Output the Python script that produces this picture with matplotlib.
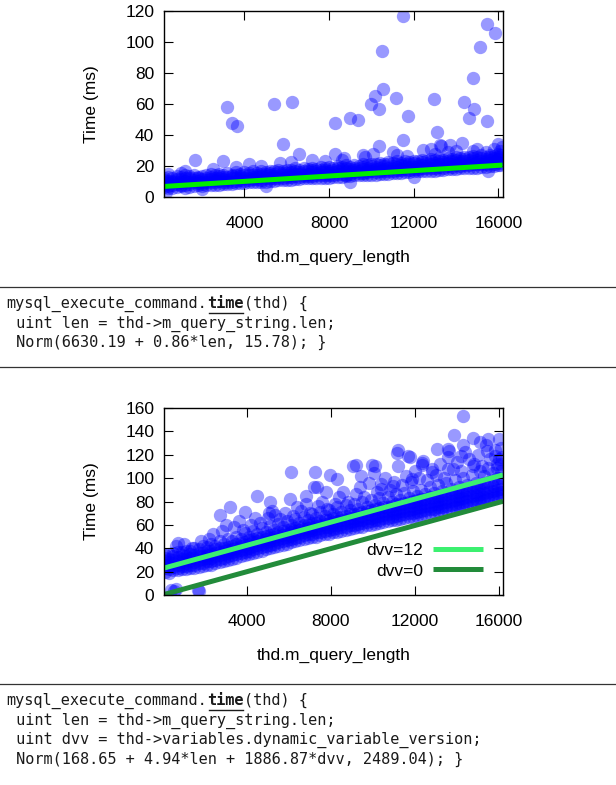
import matplotlib
matplotlib.use("Agg")
import matplotlib.pyplot as plt
from matplotlib.lines import Line2D
import numpy as np

plt.rcParams['font.family'] = ['Liberation Sans', 'DejaVu Sans']

# ---- top chart: time vs query length ----
top_band_cols = [200, 600, 1000, 1400, 1800, 2200, 2600, 3000, 3400, 3800,
                 4200, 4600, 5000, 5400, 5800, 6200, 6600, 7000, 7400, 7800,
                 8200, 8600, 9000, 9400, 9800, 10200, 10600, 11000, 11400, 11800,
                 12200, 12600, 13000, 13400, 13800, 14200, 14600, 15000, 15400, 15800,
                 16100]
top_band_y = [
    [6.5, 8, 9.5, 11, 12.5], [6, 7.5, 9.5, 10.5, 12], [7, 8, 10, 11.5, 13],
    [6.5, 8.5, 10, 12, 13.5], [7.5, 9, 10.5, 12, 13], [7.5, 9.5, 11, 12.5, 14],
    [8, 9.5, 11, 12, 14], [8.5, 10, 11.5, 13, 14.5], [8.5, 10, 12, 13.5, 14.5],
    [9, 11, 12, 13.5, 15], [9.5, 11, 12.5, 14, 15.5], [10, 11.5, 13, 14, 15.5],
    [10, 12, 13.5, 15, 16], [10.5, 12, 13.5, 15, 16.5], [11, 12.5, 14, 15.5, 16.5],
    [11, 13, 14.5, 16, 17.5], [11.5, 13, 15, 16, 17.5], [12, 13.5, 15, 16.5, 18],
    [12, 14, 15.5, 17, 18], [12.5, 14, 16, 17.5, 18.5], [13, 14.5, 16, 17.5, 19],
    [13, 15, 16.5, 18, 19.5], [13.5, 15, 17, 18, 19.5], [14, 15.5, 17, 18.5, 20],
    [14, 16, 17.5, 19, 20.5], [14.5, 16, 18, 19.5, 21], [15, 16.5, 18, 20, 21.5],
    [15.5, 17, 18.5, 20, 22], [15.5, 17.5, 19, 20.5, 22], [16, 17.5, 19.5, 21, 22.5],
    [16.5, 18, 20, 21.5, 23], [17, 18.5, 20, 22, 23.5], [17, 19, 20.5, 22, 24],
    [17.5, 19, 21, 22.5, 24], [18, 19.5, 21.5, 23, 24.5], [18.5, 20, 22, 23.5, 25],
    [19, 20.5, 22, 24, 25.5], [19, 21, 22.5, 24, 26], [19.5, 21, 23, 24.5, 26],
    [20, 21.5, 23.5, 25, 26.5], [20.5, 22, 24, 25.5, 27],
]
top_mid_cols = [400, 800, 1200, 1600, 2000, 2400, 2800, 3200, 3600, 4000,
                4400, 4800, 5200, 5600, 6000, 6400, 6800, 7200, 7600, 8000,
                8400, 8800, 9200, 9600, 10000, 10400, 10800, 11200, 11600, 12000,
                12400, 12800, 13200, 13600, 14000, 14400, 14800, 15200, 15600, 16000]
top_mid_y = [
    [5.5, 7, 9, 10.5, 13], [6.5, 8.5, 9.5, 11.5, 13.5], [6, 8, 10.5, 12, 14],
    [7, 9.5, 11, 12.5, 14.5], [7, 8.5, 10, 11.5, 13.5], [8, 10, 11.5, 13, 15],
    [8, 10.5, 12, 13.5, 15], [8.5, 9.5, 11, 13, 15.5], [9, 10.5, 12.5, 14, 16],
    [9, 10.5, 12, 14.5, 16], [10, 11.5, 13, 14.5, 16.5], [9.5, 11, 13.5, 15, 17],
    [10.5, 12.5, 14, 15.5, 17], [11, 12, 13.5, 16, 17.5], [11, 13, 14.5, 15.5, 17.5],
    [11.5, 13.5, 15, 17, 18.5], [12, 13.5, 14.5, 16.5, 18.5], [12, 13.5, 16, 17.5, 19],
    [12.5, 14.5, 16, 17.5, 19.5], [12.5, 14.5, 15.5, 17, 19.5], [13, 15, 17, 18.5, 20],
    [13.5, 14.5, 16.5, 18.5, 20.5], [14, 16, 17.5, 19, 20.5], [14, 15.5, 18, 19.5, 21],
    [14.5, 16.5, 18, 20, 21.5], [15, 17, 18.5, 20.5, 22], [15, 16.5, 19, 21, 22.5],
    [15.5, 17.5, 19.5, 21, 23], [16, 18, 20, 21.5, 23], [16.5, 18, 19.5, 22, 23.5],
    [16.5, 18.5, 20.5, 22.5, 24], [17, 19, 21, 23, 24.5], [17.5, 19.5, 21, 23, 25],
    [18, 20, 22, 23.5, 25], [18, 20.5, 22, 24, 25.5], [19, 20.5, 23, 24.5, 26],
    [19, 21, 23, 25, 26.5], [19.5, 21.5, 23.5, 25, 27], [20, 22, 24, 25.5, 27],
    [20.5, 22.5, 24.5, 26, 27.5],
]
top_out_x = [3180, 3400, 3650, 5410, 6250, 5820, 1680, 2980, 4240, 6600,
             8270, 8980, 9390, 8290, 10520, 10560, 10190, 10000, 10340, 10340,
             11490, 11170, 11730, 11490, 12980, 13120, 13250, 14370, 14590, 14870,
             14780, 15150, 15450, 15820, 15450, 14270, 13720, 12420,
             400, 1200, 2500, 5700, 7200, 8700, 9700, 10100, 11200, 11700,
             13000, 13300, 14800, 15400, 15800, 16100, 16150, 300, 2000, 5000,
             9000, 12000, 15500,
             8600, 9600, 11000, 12800, 14000, 15000, 16000, 13600, 6200, 7800,
             4800, 3600, 1000]
top_out_y = [58, 47.8, 46, 60, 61, 34, 24, 23, 21, 28,
             48, 51, 50, 28, 94, 70, 65, 60, 57, 33,
             116.5, 64, 52, 37, 63, 42, 33.5, 61, 51, 57,
             77, 97, 111.5, 106, 49, 35, 33.5, 30.5,
             15, 17, 18, 22, 24, 25, 26, 28, 27, 26.5,
             28, 33, 30, 29, 31, 30, 32, 3.5, 5, 7,
             10, 13, 16.5,
             24, 27, 29, 31, 30, 31, 34, 29, 22.5, 23,
             20, 19.5, 15.5]
top_fit_x = [200, 16200]
top_fit_y = [6.8, 20.6]

# ---- bottom chart: time vs query length, two dvv values ----
bot_band_cols = [100, 500, 900, 1300, 1700, 2100, 2500, 2900, 3300, 3700,
                 4100, 4500, 4900, 5300, 5700, 6100, 6500, 6900, 7300, 7700,
                 8100, 8500, 8900, 9300, 9700, 10100, 10500, 10900, 11300, 11700,
                 12100, 12500, 12900, 13300, 13700, 14100, 14500, 14900, 15300, 15700,
                 16100]
bot_band_y = [
    [20, 23, 26, 29, 31.5, 34], [21, 24, 27, 30, 33, 36], [22, 25, 28, 31, 34, 37],
    [23, 26, 29.5, 32, 35, 38], [24, 27, 30, 33, 36, 39], [26, 29, 31.5, 34.5, 37.5, 41],
    [27, 30, 33, 36, 39, 42], [29, 32, 35, 38, 40.5, 44], [31, 34, 37, 39.5, 42, 46],
    [33, 36, 38.5, 41.5, 44.5, 48], [35, 38, 40.5, 43.5, 47, 50], [37, 40, 43, 46, 48.5, 52],
    [39, 42, 45, 47.5, 50.5, 54], [41, 44, 47, 49.5, 52, 56], [43, 46, 49, 51.5, 54.5, 58],
    [45, 48, 50.5, 53.5, 56.5, 60], [47, 50, 53, 55.5, 58.5, 62], [49, 52, 55, 57.5, 60, 64],
    [50, 53.5, 56.5, 59, 62, 65.5], [52, 55, 58, 61, 64, 67.5], [53.5, 56.5, 59.5, 62.5, 65.5, 69.5],
    [55, 58, 61, 64, 67, 71], [56.5, 59.5, 62.5, 65.5, 69, 72.5], [58, 61, 64, 67, 70.5, 74],
    [59.5, 62.5, 65.5, 69, 72, 75.5], [61, 64, 67, 70, 73.5, 77], [62.5, 65.5, 68.5, 71.5, 75, 78.5],
    [64, 67, 70, 73, 76.5, 80], [65, 68.5, 71.5, 74.5, 78, 81.5], [66.5, 70, 73, 76, 79.5, 83],
    [68, 71, 74.5, 77.5, 81, 84.5], [69.5, 72.5, 76, 79, 82.5, 86], [71, 74, 77.5, 80.5, 84, 87.5],
    [72.5, 75.5, 79, 82, 85.5, 89], [74, 77, 80.5, 83.5, 87, 90.5], [75.5, 78.5, 82, 85, 88.5, 92],
    [77, 80.5, 83.5, 87, 90, 94], [79, 82, 85.5, 88.5, 92, 96], [81, 84, 87, 91, 96, 102],
    [83, 86, 89, 93, 98, 104], [85, 88, 91, 95, 100, 106],
]
bot_mid_cols = [300, 700, 1100, 1500, 1900, 2300, 2700, 3100, 3500, 3900,
                4300, 4700, 5100, 5500, 5900, 6300, 6700, 7100, 7500, 7900,
                8300, 8700, 9100, 9500, 9900, 10300, 10700, 11100, 11500, 11900,
                12300, 12700, 13100, 13500, 13900, 14300, 14700, 15100, 15500, 15900]
bot_mid_y = [
    [19, 22, 25.5, 28, 31, 35], [21, 23.5, 26, 29, 32.5, 37], [22, 24.5, 27.5, 30.5, 33, 38],
    [23, 26, 28.5, 31.5, 34.5, 40], [25, 27.5, 30.5, 33.5, 36, 42], [26, 29, 32, 35, 38, 44],
    [28, 31, 34, 37, 40.5, 46], [30, 33, 36, 38.5, 41, 48], [32, 35, 38, 40.5, 43.5, 50],
    [34, 37, 39.5, 42.5, 45.5, 53], [36, 39, 42, 45, 48, 55], [38, 41, 44, 46.5, 49.5, 57],
    [40, 43, 46, 48.5, 51.5, 59], [42, 45, 48, 50.5, 53.5, 61], [44, 47, 50, 52.5, 55.5, 63],
    [46, 49, 52, 54.5, 57.5, 65], [48, 51, 54, 56.5, 59.5, 67], [49.5, 52.5, 55.5, 58.5, 61.5, 69],
    [51, 54, 57, 60, 63, 71], [52.5, 55.5, 58.5, 61.5, 64.5, 73], [54, 57, 60, 63, 66.5, 75],
    [55.5, 58.5, 61.5, 64.5, 68, 77], [57, 60, 63, 66, 69.5, 78], [58.5, 61.5, 64.5, 68, 71, 80],
    [60, 63, 66, 69.5, 73, 81], [61.5, 64.5, 67.5, 71, 74.5, 83], [63, 66, 69, 72, 75.5, 84],
    [64.5, 67.5, 70.5, 74, 77.5, 86], [66, 69, 72, 75.5, 79, 87], [67, 70.5, 73.5, 77, 80.5, 89],
    [68.5, 72, 75, 78.5, 82, 90], [70, 73.5, 76.5, 80, 83.5, 92], [72, 75, 78, 81.5, 85, 94],
    [73.5, 76.5, 80, 83, 86.5, 96], [75, 78, 81.5, 84.5, 88, 98], [76.5, 80, 83, 86.5, 90, 100],
    [78, 81.5, 85, 88, 92, 103], [80, 83, 86.5, 90, 94, 106], [82, 85, 88.5, 92, 97, 109],
    [84, 87, 90, 94, 100, 112],
]
# loose circles just above the dense band
bot_fringe_x = [600, 1000, 1400, 1800, 2200, 2400, 2800, 3000, 3400, 3600,
                3800, 4200, 4400, 4600, 5000, 5200, 5600, 5800, 6200, 6400,
                6600, 6800, 7000, 7400, 7600, 7800, 8200, 8400, 8600, 8800,
                9200, 9400, 9600, 9800, 10200, 10400, 10600, 10800, 11000, 11400,
                11600, 11800, 12000, 12200, 12600, 12800, 13000, 13200, 13400, 13800,
                14000, 14200, 14600, 14800, 15000, 15200, 15600, 15800, 16000, 16100,
                15400, 14400, 13600, 12400, 11200]
bot_fringe_y = [42, 44, 40, 46, 48, 52, 55, 60, 58, 63,
                56, 60, 66, 62, 66, 72, 65, 70, 68, 75,
                72, 78, 70, 76, 80, 74, 78, 84, 88, 80,
                86, 92, 84, 96, 88, 95, 100, 90, 97, 94,
                102, 97, 106, 100, 98, 108, 103, 112, 100, 108,
                114, 106, 116, 112, 120, 110, 116, 124, 116, 126,
                128, 122, 118, 115, 110]
bot_out_x = [14310, 6100, 7240, 7940, 8280, 7190, 7750, 9190, 9960, 10060,
             11220, 11690, 12340, 13040, 13560, 13880, 14780, 15100, 15490, 16000,
             13560, 10940, 4480, 5110, 5350, 3210, 2700, 3920, 720, 5030,
             6060, 6810, 9440, 10380, 11880, 12810, 14220, 15440, 15810, 14310,
             14780, 13650, 7330, 9070, 10100, 11130, 11770, 12320, 400, 600,
             550, 1650, 1720, 16100, 16150, 15900]
bot_out_y = [153, 104.9, 105, 103, 99.5, 92.8, 88.5, 111, 111, 104,
             124, 119, 113, 125, 125, 136.5, 134, 131, 133.6, 133.6,
             107.8, 93.4, 85, 80, 68.6, 75.7, 68.6, 71.4, 44.5, 70,
             82, 84.8, 102, 90.5, 99, 105, 119, 123.5, 119, 128,
             110.6, 123.5, 92.3, 110, 110.6, 121.4, 118, 111.4, 4, 5,
             3, 4, 3, 112, 118, 109]
dvv12_x = [0, 16200]
dvv12_y = [22.8, 102.8]
dvv0_x = [0, 16200]
dvv0_y = [0.2, 80.2]

code_top = ["mysql_execute_command.time(thd) {",
            " uint len = thd->m_query_string.len;",
            " Norm(6630.19 + 0.86*len, 15.78); }"]
code_bot = ["mysql_execute_command.time(thd) {",
            " uint len = thd->m_query_string.len;",
            " uint dvv = thd->variables.dynamic_variable_version;",
            " Norm(168.65 + 4.94*len + 1886.87*dvv, 2489.04); }"]

W, H = 616, 785
fig = plt.figure(figsize=(W / 100, H / 100), dpi=100)

pt_color = '#0000ff'
pt_size = 92
fs = 12.5


def style_axes(ax, yticks):
    ax.tick_params(direction='in', top=True, right=True, length=6.5, width=0.8,
                   labelsize=fs, colors='black')
    ax.tick_params(axis='x', pad=14)
    ax.tick_params(axis='y', pad=7)
    ax.set_xticks([4000, 8000, 12000, 16000])
    ax.set_yticks(yticks)
    for s in ax.spines.values():
        s.set_linewidth(1.0)
    ax.set_xlabel('thd.m_query_length', fontsize=fs, va='center')
    ax.set_ylabel('Time (ms)', fontsize=fs, va='center')
    ax.yaxis.set_label_coords(-0.2153, 0.5)


def cloud(ax, cols, ys):
    x = np.repeat(cols, [len(c) for c in ys])
    y = np.concatenate(ys)
    ax.scatter(x, y, s=pt_size, color=pt_color, alpha=0.4, linewidths=0)


# top chart
ax1 = fig.add_axes([164 / W, 1 - 197 / H, 339 / W, 186 / H])
cloud(ax1, top_band_cols, top_band_y)
cloud(ax1, top_mid_cols, top_mid_y)
ax1.scatter(top_out_x, top_out_y, s=pt_size, color=pt_color, alpha=0.4, linewidths=0)
ax1.plot(top_fit_x, top_fit_y, color='#00ee00', lw=3.6, solid_capstyle='butt')
ax1.set_xlim(200, 16220)
ax1.set_ylim(0, 120)
style_axes(ax1, range(0, 121, 20))
ax1.xaxis.set_label_coords(0.5, -0.3226)

# bottom chart
ax2 = fig.add_axes([164 / W, 1 - 595 / H, 339 / W, 187 / H])
cloud(ax2, bot_band_cols, bot_band_y)
cloud(ax2, bot_mid_cols, bot_mid_y)
ax2.scatter(bot_fringe_x, bot_fringe_y, s=pt_size, color=pt_color, alpha=0.4, linewidths=0)
ax2.scatter(bot_out_x, bot_out_y, s=pt_size, color=pt_color, alpha=0.4, linewidths=0)
l12, = ax2.plot(dvv12_x, dvv12_y, color='#3cf070', lw=3.6, solid_capstyle='butt')
l0, = ax2.plot(dvv0_x, dvv0_y, color='#228b3a', lw=3.6, solid_capstyle='butt')
ax2.set_xlim(50, 16200)
ax2.set_ylim(0, 160)
style_axes(ax2, range(0, 161, 20))
ax2.xaxis.set_label_coords(0.5, -0.3209)
ax2.legend([l12, l0], ['dvv=12', 'dvv=0'], loc='lower right',
           bbox_to_anchor=(0.941, 0.088), markerfirst=False, frameon=False,
           handlelength=2.9, handletextpad=0.55, labelspacing=0.3,
           borderpad=0, borderaxespad=0, fontsize=fs)

# code blocks with rules
mono = 'DejaVu Sans Mono'
cfs = 11
x0 = 6.7
ink = '#1a1a1a'

# measure the real character advance of the mono font
renderer = fig.canvas.get_renderer()
probe = fig.text(0, 0, 'x' * 100, family=mono, fontsize=cfs)
cw = probe.get_window_extent(renderer).width / 100
probe.remove()


def rule(y_px):
    fig.add_artist(Line2D([0, 1], [1 - y_px / H, 1 - y_px / H], transform=fig.transFigure,
                          color='#333333', lw=0.9))


def code_block(lines, baselines):
    for i, (txt, yb) in enumerate(zip(lines, baselines)):
        y = 1 - yb / H
        if i == 0:
            k = txt.index('time')
            fig.text(x0 / W, y, txt[:k], family=mono, fontsize=cfs, color=ink, va='baseline')
            fig.text((x0 + k * cw) / W, y, 'time', family=mono, fontsize=cfs, color=ink,
                     weight='bold', va='baseline')
            fig.text((x0 + (k + 4) * cw) / W, y, txt[k + 4:], family=mono, fontsize=cfs,
                     color=ink, va='baseline')
            uy = 1 - (yb + 4.5) / H
            fig.add_artist(Line2D([(x0 + k * cw + 1.5) / W, (x0 + (k + 4) * cw - 0.5) / W],
                                  [uy, uy], transform=fig.transFigure, color=ink, lw=1.0))
        else:
            fig.text(x0 / W, y, txt, family=mono, fontsize=cfs, color=ink, va='baseline')


rule(286.7)
code_block(code_top, [308, 327.5, 347])
rule(367.3)
rule(684.3)
code_block(code_bot, [705, 724.5, 744, 763.5])

fig.savefig('out.png', dpi=100)
